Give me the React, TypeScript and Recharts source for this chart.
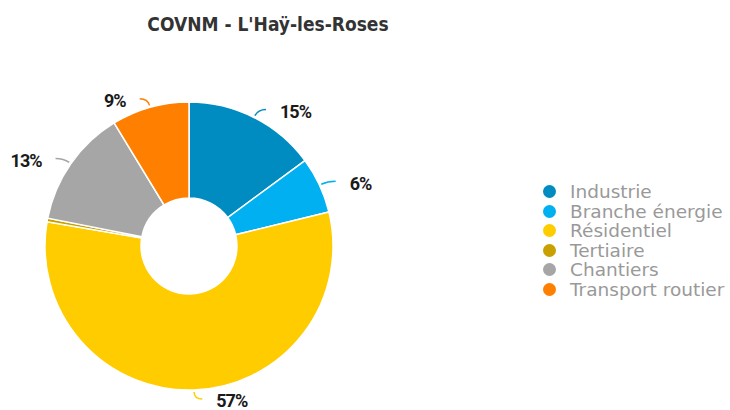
import React from 'react';
import { PieChart, Pie, Cell, Legend } from 'recharts';

// Shares of COVNM emissions by sector (percent)
const sectors = ['Industrie', 'Branche énergie', 'Résidentiel', 'Tertiaire', 'Chantiers', 'Transport routier'];
const shares = [14.9, 6.3, 56.5, 0.4, 13.2, 8.7];
const colors = ['#008bc1', '#00b0f0', '#ffcc00', '#c8a000', '#a6a6a6', '#ff7f00'];

const data = sectors.map((name, i) => ({ name, value: shares[i], fill: colors[i] }));

const RADIAN = Math.PI / 180;

const renderLabel = (props: any) => {
  const { cx, cy, midAngle, outerRadius, value, index } = props;
  if (value < 1) return null;
  const cos = Math.cos(-midAngle * RADIAN);
  const sin = Math.sin(-midAngle * RADIAN);
  const x0 = cx + (outerRadius + 2) * cos;
  const y0 = cy + (outerRadius + 2) * sin;
  const x1 = cx + (outerRadius + 9) * cos;
  const y1 = cy + (outerRadius + 9) * sin;
  const right = cos >= 0;
  const x2 = x1 + (right ? 8 : -8);
  const color = colors[index];
  return (
    <g>
      <path
        d={`M${x0},${y0} Q${x1},${y1} ${x2},${y1}`}
        stroke={color}
        strokeWidth={1.5}
        fill="none"
      />
      <text
        x={x2 + (right ? 14 : -14)}
        y={y1 + 2}
        textAnchor={right ? 'start' : 'end'}
        dominantBaseline="central"
        fontFamily="Roboto, 'DejaVu Sans Condensed', sans-serif"
        fontWeight="bold"
        fontSize={18}
        letterSpacing={-1}
        fill="#1a1a1a"
        stroke="#fff"
        strokeWidth={3}
        strokeLinejoin="round"
        paintOrder="stroke"
      >
        {`${Math.round(value)}%`}
      </text>
    </g>
  );
};

const renderLegend = () => (
  <div style={{ fontFamily: "'DejaVu Sans', sans-serif", fontSize: 18.5, color: '#999' }}>
    {data.map((d) => (
      <div key={d.name} style={{ display: 'flex', alignItems: 'center', height: 19.5 }}>
        <span
          style={{
            width: 13,
            height: 13,
            borderRadius: '50%',
            background: d.fill,
            display: 'inline-block',
            marginRight: 14,
          }}
        />
        <span>{d.name}</span>
      </div>
    ))}
  </div>
);

export default function App() {
  return (
    <div style={{ position: 'absolute', left: 0, top: 0, width: 730, height: 410, background: '#fff' }}>
      <div
        style={{
          position: 'absolute',
          left: 0,
          width: 536,
          top: 13,
          textAlign: 'center',
          fontFamily: "'DejaVu Sans Condensed', 'DejaVu Sans', sans-serif",
          fontWeight: 'bold',
          fontSize: 19,
          color: '#333',
        }}
      >
        COVNM - L'Haÿ-les-Roses
      </div>
      <PieChart width={730} height={410} margin={{ top: 0, right: 0, bottom: 0, left: 0 }}>
        <Pie
          data={data}
          dataKey="value"
          nameKey="name"
          cx={189}
          cy={246}
          innerRadius={48}
          outerRadius={144}
          startAngle={90}
          endAngle={-270}
          stroke="#fff"
          strokeWidth={1.5}
          label={renderLabel}
          labelLine={false}
          isAnimationActive={false}
        >
          {data.map((d, i) => (
            <Cell key={`cell-${i}`} fill={d.fill} />
          ))}
        </Pie>
        <Legend
          content={renderLegend}
          layout="vertical"
          verticalAlign="top"
          align="right"
          wrapperStyle={{ left: 543, top: 182, width: 190 }}
        />
      </PieChart>
    </div>
  );
}
